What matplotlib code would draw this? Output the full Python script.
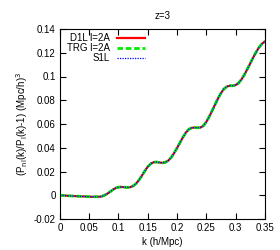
import matplotlib
matplotlib.use("Agg")
import matplotlib.pyplot as plt
from matplotlib.lines import Line2D

plt.rcParams['font.family'] = ['Liberation Sans', 'DejaVu Sans']

# k values (h/Mpc)
k = [0.000, 0.005, 0.010, 0.015, 0.020, 0.025, 0.030, 0.035, 0.040, 0.045,
     0.050, 0.055, 0.060, 0.065, 0.070, 0.075, 0.080, 0.085, 0.090, 0.095,
     0.100, 0.105, 0.110, 0.115, 0.120, 0.125, 0.130, 0.135, 0.140, 0.145,
     0.150, 0.155, 0.160, 0.165, 0.170, 0.175, 0.180, 0.185, 0.190, 0.195,
     0.200, 0.205, 0.210, 0.215, 0.220, 0.225, 0.230, 0.235, 0.240, 0.245,
     0.250, 0.255, 0.260, 0.265, 0.270, 0.275, 0.280, 0.285, 0.290, 0.295,
     0.300, 0.305, 0.310, 0.315, 0.320, 0.325, 0.330, 0.335, 0.340, 0.345,
     0.350]

# P_nl/P_l - 1
ratio = [0.0000, -0.0001, -0.0003, -0.0005, -0.0006, -0.0007, -0.0008, -0.0009, -0.0010, -0.0011,
         -0.0012, -0.0013, -0.0013, -0.0013, -0.0011, -0.0003, 0.0010, 0.0027, 0.0045, 0.0060,
         0.0068, 0.0070, 0.0068, 0.0066, 0.0068, 0.0078, 0.0098, 0.0128, 0.0165, 0.0205,
         0.0240, 0.0265, 0.0278, 0.0280, 0.0276, 0.0273, 0.0277, 0.0292, 0.0318, 0.0355,
         0.0398, 0.0443, 0.0488, 0.0527, 0.0555, 0.0568, 0.0570, 0.0568, 0.0570, 0.0585,
         0.0618, 0.0662, 0.0712, 0.0765, 0.0815, 0.0860, 0.0895, 0.0915, 0.0922, 0.0922,
         0.0928, 0.0945, 0.0975, 0.1015, 0.1062, 0.1110, 0.1160, 0.1205, 0.1245, 0.1275,
         0.1295]

labels = ["D1L l=2A", "TRG l=2A", "S1L"]
xticks = [0, 0.05, 0.1, 0.15, 0.2, 0.25, 0.3, 0.35]
yticks = [-0.02, 0, 0.02, 0.04, 0.06, 0.08, 0.1, 0.12, 0.14]

fig = plt.figure(figsize=(2.8, 2.5), dpi=100)
ax = fig.add_axes([0.214, 0.124, 0.732, 0.76])

styles = [
    dict(color='#ff0000', lw=1.6, ls='-'),
    dict(color='#00ee00', lw=2.0, ls=(0, (2, 1))),
    dict(color='#0000ff', lw=0.9, ls=(0, (1, 1))),
]
for st in styles:
    ax.plot(k, ratio, **st)

ax.set_xlim(0, 0.35)
ax.set_ylim(-0.02, 0.14)
ax.set_xticks(xticks)
ax.set_xticklabels(['0', '0.05', '0.1', '0.15', '0.2', '0.25', '0.3', '0.35'])
ax.set_yticks(yticks)
ax.set_yticklabels(['-0.02', '0', '0.02', '0.04', '0.06', '0.08', '0.1', '0.12', '0.14'])
ax.tick_params(direction='in', top=True, right=True, length=4, width=0.8,
               labelsize=7, pad=3)
for s in ax.spines.values():
    s.set_linewidth(0.8)

ax.set_title("z=3", fontsize=7, pad=7)
ax.set_xlabel("k (h/Mpc)", fontsize=7, labelpad=3)
ax.set_ylabel("(P$_{\\rm nl}$(k)/P$_{\\rm l}$(k)-1) (Mpc/h)$^3$", fontsize=7, labelpad=3)

# gnuplot-style key: right-aligned text, sample line to its right
key_y = [0.953, 0.9, 0.847]
for lab, st, yy in zip(labels, styles, key_y):
    ax.text(0.244, yy, lab, transform=ax.transAxes, ha='right', va='center', fontsize=7)
    ax.add_line(Line2D([0.278, 0.415], [yy, yy], transform=ax.transAxes, **st))

fig.savefig("out.png", dpi=100)
